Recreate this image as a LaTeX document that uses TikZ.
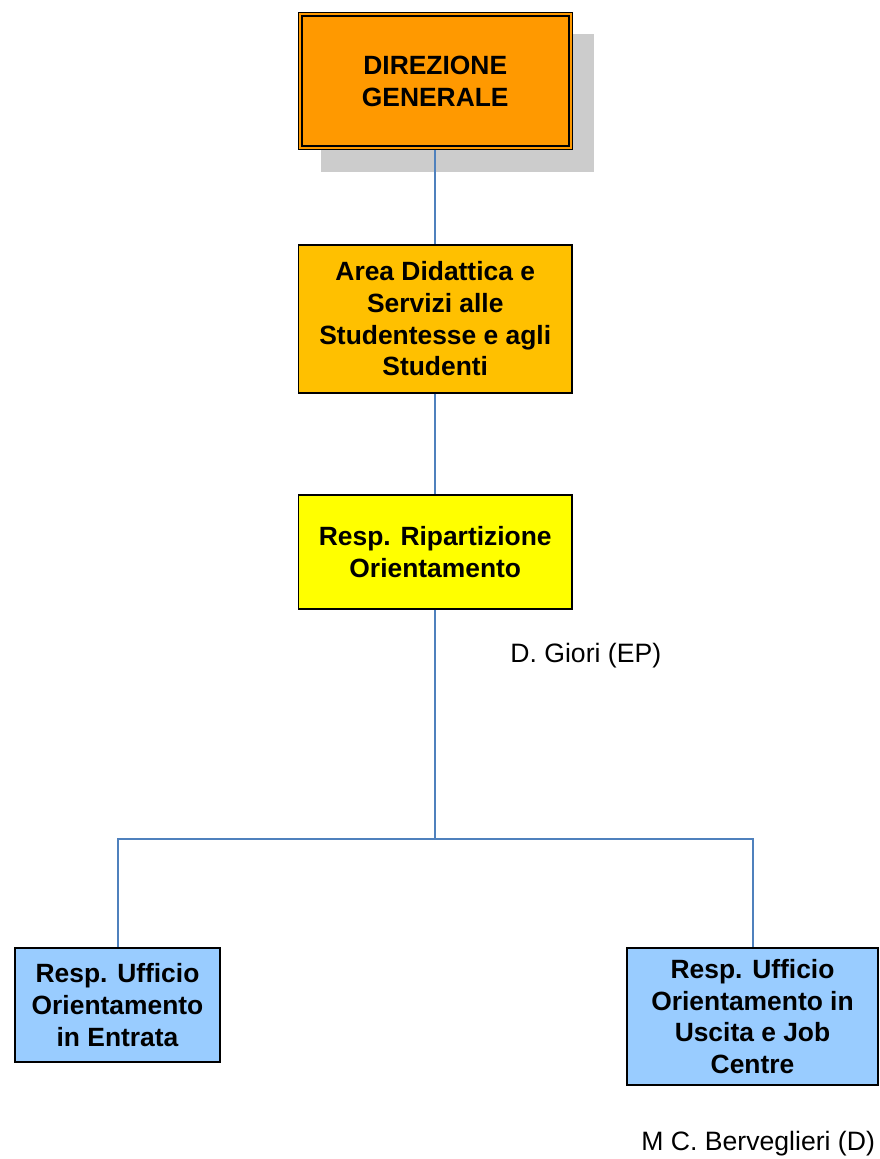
\documentclass[tikz,border=0pt]{standalone}
\usepackage{fontspec}
\setmainfont{Liberation Sans}
\usetikzlibrary{positioning,shadows,calc}
\definecolor{dgorange}{HTML}{FF9900}
\definecolor{areagold}{HTML}{FFC000}
\definecolor{ripyellow}{HTML}{FFFF00}
\definecolor{uffblue}{HTML}{99CCFF}
\definecolor{linkblue}{HTML}{4F81BD}
\definecolor{shadowgray}{HTML}{CCCCCC}
\tikzset{box/.style={draw=black, line width=0.75pt, inner sep=0, align=center,
    font=\fontsize{13.2}{15.85}\selectfont\bfseries},
  link/.style={draw=linkblue, line width=1pt},
  person/.style={inner sep=0, anchor=base west, font=\fontsize{13.3}{16}\selectfont}}
\newcommand{\drawbox}{\node[box]}

\begin{document}
\begin{tikzpicture}[x=0.5pt,y=-0.5pt]
	\useasboundingbox (0,0) rectangle (879,1159);

	\drawbox[fill=dgorange, line width=0.5pt, minimum width=136.75pt, minimum height=68.75pt,
	  drop shadow={shadow xshift=11pt, shadow yshift=-11pt, fill=shadowgray, opacity=1}]
	  (dg) at (435.25,81.25) {DIREZIONE\\GENERALE};
	\draw[line width=1pt] ($(dg.south west)+(4,-4)$) rectangle ($(dg.north east)+(-4,4)$);
	\drawbox[fill=areagold, minimum width=136.75pt, minimum height=74pt]
	  (area) at (435.25,319) {Area Didattica e\\Servizi alle\\Studentesse e agli\\Studenti};
	\drawbox[fill=ripyellow, minimum width=136.75pt, minimum height=57pt]
	  (rip) at (435.25,552) {Resp. Ripartizione\\Orientamento};
	\drawbox[fill=uffblue, minimum width=102.5pt, minimum height=57pt]
	  (uin) at (117.5,1005) {Resp. Ufficio\\Orientamento\\in Entrata};
	\drawbox[fill=uffblue, minimum width=125.5pt, minimum height=68.5pt]
	  (uout) at (752.5,1016.5) {Resp. Ufficio\\Orientamento in\\Uscita e Job\\Centre};

	\coordinate (jn) at (435.25,838.5);

	\node[person] (giori) at (510,662) {D. Giori (EP)};
	\node[person] (berv) at (641,1150) {M C. Berveglieri (D)};

	\draw[link] (dg.south) -- (area.north);
	\draw[link] (area.south) -- (rip.north);
	\draw[link] (rip.south) -- (jn);
	\draw[link] (jn) -| (uin.north);
	\draw[link] (jn) -| (uout.north);

\end{tikzpicture}
\end{document}
